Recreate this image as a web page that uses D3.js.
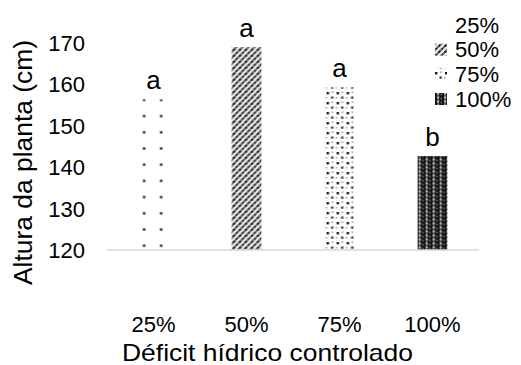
<!DOCTYPE html>
<html>
<head>
<meta charset="utf-8">
<script src="https://cdn.jsdelivr.net/npm/d3@7"></script>
<style>
  html, body { margin: 0; padding: 0; background: #fff; }
  svg { display: block; font-family: Arial, "Liberation Sans", sans-serif; }
</style>
</head>
<body>
<svg id="chart" width="521" height="365"></svg>
<script>
// Plant height by controlled water deficit level
const categories = ["25%", "50%", "75%", "100%"];
const heights = [156.4, 169.0, 159.3, 142.7];
const letters = ["a", "a", "a", "b"];
const yTicks = [120, 130, 140, 150, 160, 170];

const svg = d3.select("#chart");
const defs = svg.append("defs");

const x = d3.scaleBand().domain(categories).range([107, 479]).paddingInner(0.68).paddingOuter(0.34);
const y = d3.scaleLinear().domain([120, 170]).range([250, 43]);

// Fill patterns, one per deficit level
function makePatterns(suffix, ox, oy) {
  // 25%: sparse dots in columns
  let p = defs.append("pattern").attr("id", "p0" + suffix).attr("patternUnits", "userSpaceOnUse")
    .attr("x", ox).attr("y", oy).attr("width", 17).attr("height", 16.2);
  p.append("rect").attr("width", 17).attr("height", 16.2).attr("fill", "#fff");
  p.append("rect").attr("x", 4.3).attr("y", 10.7).attr("width", 2.4).attr("height", 2.4).attr("fill", "#222");

  // 50%: dense upward diagonal of dots
  p = defs.append("pattern").attr("id", "p1" + suffix).attr("patternUnits", "userSpaceOnUse")
    .attr("x", ox).attr("y", oy).attr("width", 6).attr("height", 6);
  p.append("rect").attr("width", 6).attr("height", 6).attr("fill", "#ededed");
  p.append("path").attr("d", "M-1,7 L7,-1 M-1,1 L1,-1 M5,7 L7,5").attr("stroke", "#6e6e6e").attr("stroke-width", 2.2);
  p.append("rect").attr("x", 1.5).attr("y", 2.9).attr("width", 1.8).attr("height", 1.8).attr("fill", "#111");
  p.append("rect").attr("x", 4.5).attr("y", -0.1).attr("width", 1.6).attr("height", 1.6).attr("fill", "#222");

  // 75%: scattered dots
  p = defs.append("pattern").attr("id", "p2" + suffix).attr("patternUnits", "userSpaceOnUse")
    .attr("x", ox).attr("y", oy).attr("width", 10).attr("height", 10);
  p.append("rect").attr("width", 10).attr("height", 10).attr("fill", "#fdfdfd");
  p.append("rect").attr("x", 2).attr("y", 2).attr("width", 2.4).attr("height", 2.4).attr("fill", "#1a1a1a");
  p.append("rect").attr("x", 6.5).attr("y", 6.5).attr("width", 2.2).attr("height", 2.2).attr("fill", "#2a2a2a");
  p.append("rect").attr("x", 7).attr("y", 1.5).attr("width", 1.5).attr("height", 1.5).attr("fill", "#9a9a9a");
  p.append("rect").attr("x", 1).attr("y", 7).attr("width", 1.5).attr("height", 1.5).attr("fill", "#a8a8a8");

  // 100%: dark with light columns
  p = defs.append("pattern").attr("id", "p3" + suffix).attr("patternUnits", "userSpaceOnUse")
    .attr("x", ox).attr("y", oy).attr("width", 7).attr("height", 4);
  p.append("rect").attr("width", 7).attr("height", 4).attr("fill", "#141414");
  p.append("rect").attr("x", 1).attr("y", 0.4).attr("width", 2.2).attr("height", 2.2).attr("fill", "#c4c4c4");
  p.append("rect").attr("x", 1.2).attr("y", 2.6).attr("width", 1.8).attr("height", 1.2).attr("fill", "#7a7a7a");
  p.append("rect").attr("x", 4.6).attr("y", 1.6).attr("width", 1.4).attr("height", 1.8).attr("fill", "#6c6c6c");
}

categories.forEach((c, i) => makePatterns("_b" + i, x(c), 250));
makePatterns("_leg", 443, 0);

// Bars
svg.append("g").selectAll("rect")
  .data(categories)
  .join("rect")
  .attr("x", d => x(d))
  .attr("width", x.bandwidth())
  .attr("y", (d, i) => y(heights[i]))
  .attr("height", (d, i) => y(120) - y(heights[i]))
  .attr("fill", (d, i) => `url(#p${i}_b${i})`);

// Baseline
svg.append("line")
  .attr("x1", 107).attr("x2", 479)
  .attr("y1", y(120)).attr("y2", y(120))
  .attr("stroke", "#d9d9d9").attr("stroke-width", 1.5);

// Y tick labels
const yAxis = d3.axisLeft(y).tickValues(yTicks).tickSize(0).tickPadding(0).tickFormat(d3.format("d"));
const gy = svg.append("g").attr("transform", "translate(85,0)").call(yAxis);
gy.select(".domain").remove();
gy.selectAll("text").attr("font-size", 22).attr("fill", "#000")
  .attr("font-family", "Arial, 'Liberation Sans', sans-serif").attr("dy", "0.34em");

// X tick labels
const xAxis = d3.axisBottom(x).tickSize(0).tickPadding(0);
const gx = svg.append("g").attr("transform", "translate(0,332)").call(xAxis);
gx.select(".domain").remove();
gx.selectAll("text").attr("font-size", 22).attr("fill", "#000")
  .attr("font-family", "Arial, 'Liberation Sans', sans-serif").attr("dy", 0).attr("y", 0);

// Significance letters
svg.append("g").selectAll("text")
  .data(categories)
  .join("text")
  .attr("x", d => x(d) + x.bandwidth() / 2)
  .attr("y", (d, i) => y(heights[i]) - 10)
  .attr("text-anchor", "middle")
  .attr("font-size", 26)
  .text((d, i) => letters[i]);

// Axis titles
svg.append("text")
  .attr("x", 267.5).attr("y", 361)
  .attr("text-anchor", "middle")
  .attr("font-size", 24)
  .attr("textLength", 291).attr("lengthAdjust", "spacingAndGlyphs")
  .text("Déficit hídrico controlado");

svg.append("text")
  .attr("transform", "translate(32,162.5) rotate(-90)")
  .attr("text-anchor", "middle")
  .attr("font-size", 25)
  .attr("textLength", 245).attr("lengthAdjust", "spacingAndGlyphs")
  .text("Altura da planta (cm)");

// Legend
const legendY = d3.scalePoint().domain(categories).range([25, 99]);
const leg = svg.append("g");
leg.selectAll("rect")
  .data(categories)
  .join("rect")
  .attr("x", 435).attr("y", d => legendY(d) - 6)
  .attr("width", 12).attr("height", 12)
  .attr("fill", (d, i) => `url(#p${i}_leg)`);
leg.selectAll("text")
  .data(categories)
  .join("text")
  .attr("x", 455).attr("y", d => legendY(d) + 7.8)
  .attr("font-size", 22)
  .text(d => d);
</script>
</body>
</html>
